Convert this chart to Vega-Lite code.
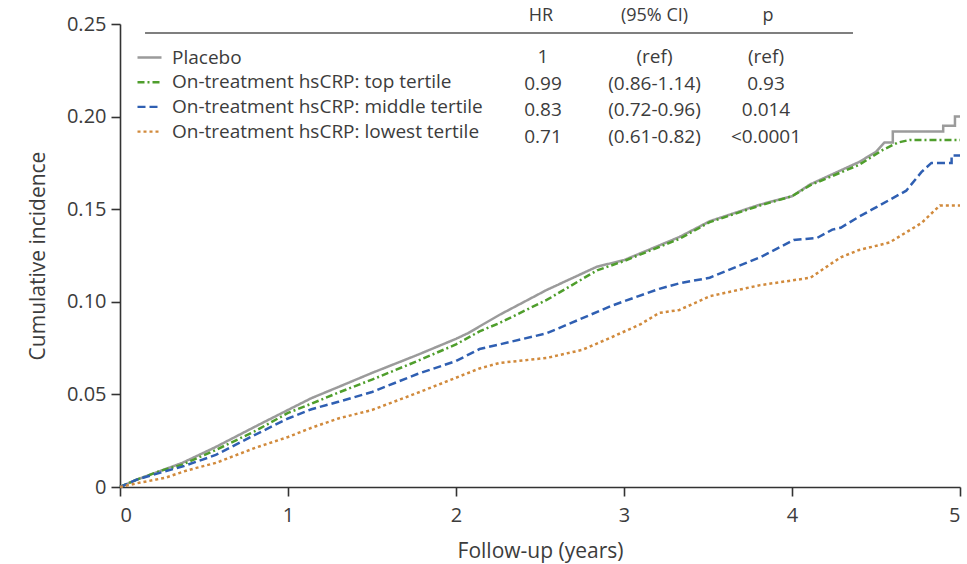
{
  "$schema": "https://vega.github.io/schema/vega-lite/v6.json",
  "width": 840,
  "height": 463,
  "autosize": {"type": "none"},
  "padding": {"left": 120, "top": 24, "right": 7, "bottom": 77},
  "background": "white",
  "config": {
    "font": "Open Sans",
    "view": {"stroke": null},
    "axis": {"grid": false, "domainColor": "#333333", "domainWidth": 1.6, "tickColor": "#333333", "tickWidth": 1.6, "tickSize": 9, "labelFont": "Open Sans", "labelFontSize": 20, "labelColor": "#3c3c3c", "titleFont": "Open Sans", "titleFontSize": 21, "titleFontWeight": "normal", "titleColor": "#3c3c3c"},
    "legend": {"orient": "none", "legendX": 16, "legendY": 20, "padding": 0, "symbolType": "stroke", "symbolSize": 576, "symbolStrokeWidth": 2.4, "labelFont": "Open Sans", "labelFontSize": 19, "labelColor": "#3c3c3c", "labelOffset": 9, "rowPadding": 0.7, "labelLimit": 500}
  },
  "datasets": {
    "curves": [
      {"series": "Placebo", "i": 1, "t": 0, "v": 0},
      {"series": "Placebo", "i": 2, "t": 0.1, "v": 0.004},
      {"series": "Placebo", "i": 3, "t": 0.25, "v": 0.009},
      {"series": "Placebo", "i": 4, "t": 0.37, "v": 0.013},
      {"series": "Placebo", "i": 5, "t": 0.57, "v": 0.0216},
      {"series": "Placebo", "i": 6, "t": 0.8, "v": 0.0324},
      {"series": "Placebo", "i": 7, "t": 1.0, "v": 0.0416},
      {"series": "Placebo", "i": 8, "t": 1.14, "v": 0.048},
      {"series": "Placebo", "i": 9, "t": 1.3, "v": 0.054},
      {"series": "Placebo", "i": 10, "t": 1.5, "v": 0.0616},
      {"series": "Placebo", "i": 11, "t": 1.77, "v": 0.0713},
      {"series": "Placebo", "i": 12, "t": 2.0, "v": 0.08},
      {"series": "Placebo", "i": 13, "t": 2.07, "v": 0.083},
      {"series": "Placebo", "i": 14, "t": 2.26, "v": 0.093},
      {"series": "Placebo", "i": 15, "t": 2.54, "v": 0.1064},
      {"series": "Placebo", "i": 16, "t": 2.84, "v": 0.119},
      {"series": "Placebo", "i": 17, "t": 3.0, "v": 0.1225},
      {"series": "Placebo", "i": 18, "t": 3.33, "v": 0.135},
      {"series": "Placebo", "i": 19, "t": 3.51, "v": 0.1435},
      {"series": "Placebo", "i": 20, "t": 3.81, "v": 0.1525},
      {"series": "Placebo", "i": 21, "t": 4.0, "v": 0.157},
      {"series": "Placebo", "i": 22, "t": 4.11, "v": 0.1635},
      {"series": "Placebo", "i": 23, "t": 4.4, "v": 0.1755},
      {"series": "Placebo", "i": 24, "t": 4.5, "v": 0.181},
      {"series": "Placebo", "i": 25, "t": 4.55, "v": 0.186},
      {"series": "Placebo", "i": 26, "t": 4.6, "v": 0.186},
      {"series": "Placebo", "i": 27, "t": 4.6, "v": 0.192},
      {"series": "Placebo", "i": 28, "t": 4.9, "v": 0.192},
      {"series": "Placebo", "i": 29, "t": 4.9, "v": 0.195},
      {"series": "Placebo", "i": 30, "t": 4.97, "v": 0.195},
      {"series": "Placebo", "i": 31, "t": 4.97, "v": 0.2},
      {"series": "Placebo", "i": 32, "t": 5.0, "v": 0.2},

      {"series": "On-treatment hsCRP: top tertile", "i": 1, "t": 0, "v": 0},
      {"series": "On-treatment hsCRP: top tertile", "i": 2, "t": 0.1, "v": 0.004},
      {"series": "On-treatment hsCRP: top tertile", "i": 3, "t": 0.25, "v": 0.009},
      {"series": "On-treatment hsCRP: top tertile", "i": 4, "t": 0.37, "v": 0.012},
      {"series": "On-treatment hsCRP: top tertile", "i": 5, "t": 0.57, "v": 0.02},
      {"series": "On-treatment hsCRP: top tertile", "i": 6, "t": 0.8, "v": 0.03},
      {"series": "On-treatment hsCRP: top tertile", "i": 7, "t": 1.0, "v": 0.04},
      {"series": "On-treatment hsCRP: top tertile", "i": 8, "t": 1.14, "v": 0.045},
      {"series": "On-treatment hsCRP: top tertile", "i": 9, "t": 1.3, "v": 0.051},
      {"series": "On-treatment hsCRP: top tertile", "i": 10, "t": 1.5, "v": 0.058},
      {"series": "On-treatment hsCRP: top tertile", "i": 11, "t": 1.77, "v": 0.068},
      {"series": "On-treatment hsCRP: top tertile", "i": 12, "t": 2.0, "v": 0.077},
      {"series": "On-treatment hsCRP: top tertile", "i": 13, "t": 2.14, "v": 0.084},
      {"series": "On-treatment hsCRP: top tertile", "i": 14, "t": 2.26, "v": 0.0886},
      {"series": "On-treatment hsCRP: top tertile", "i": 15, "t": 2.54, "v": 0.101},
      {"series": "On-treatment hsCRP: top tertile", "i": 16, "t": 2.84, "v": 0.117},
      {"series": "On-treatment hsCRP: top tertile", "i": 17, "t": 3.0, "v": 0.122},
      {"series": "On-treatment hsCRP: top tertile", "i": 18, "t": 3.33, "v": 0.134},
      {"series": "On-treatment hsCRP: top tertile", "i": 19, "t": 3.51, "v": 0.143},
      {"series": "On-treatment hsCRP: top tertile", "i": 20, "t": 3.81, "v": 0.152},
      {"series": "On-treatment hsCRP: top tertile", "i": 21, "t": 4.0, "v": 0.157},
      {"series": "On-treatment hsCRP: top tertile", "i": 22, "t": 4.11, "v": 0.163},
      {"series": "On-treatment hsCRP: top tertile", "i": 23, "t": 4.4, "v": 0.174},
      {"series": "On-treatment hsCRP: top tertile", "i": 24, "t": 4.54, "v": 0.182},
      {"series": "On-treatment hsCRP: top tertile", "i": 25, "t": 4.63, "v": 0.186},
      {"series": "On-treatment hsCRP: top tertile", "i": 26, "t": 4.7, "v": 0.1874},
      {"series": "On-treatment hsCRP: top tertile", "i": 27, "t": 5.0, "v": 0.1874},

      {"series": "On-treatment hsCRP: middle tertile", "i": 1, "t": 0, "v": 0},
      {"series": "On-treatment hsCRP: middle tertile", "i": 2, "t": 0.1, "v": 0.004},
      {"series": "On-treatment hsCRP: middle tertile", "i": 3, "t": 0.25, "v": 0.008},
      {"series": "On-treatment hsCRP: middle tertile", "i": 4, "t": 0.37, "v": 0.011},
      {"series": "On-treatment hsCRP: middle tertile", "i": 5, "t": 0.57, "v": 0.0173},
      {"series": "On-treatment hsCRP: middle tertile", "i": 6, "t": 0.8, "v": 0.028},
      {"series": "On-treatment hsCRP: middle tertile", "i": 7, "t": 1.0, "v": 0.037},
      {"series": "On-treatment hsCRP: middle tertile", "i": 8, "t": 1.14, "v": 0.042},
      {"series": "On-treatment hsCRP: middle tertile", "i": 9, "t": 1.3, "v": 0.046},
      {"series": "On-treatment hsCRP: middle tertile", "i": 10, "t": 1.5, "v": 0.0513},
      {"series": "On-treatment hsCRP: middle tertile", "i": 11, "t": 1.77, "v": 0.061},
      {"series": "On-treatment hsCRP: middle tertile", "i": 12, "t": 2.0, "v": 0.068},
      {"series": "On-treatment hsCRP: middle tertile", "i": 13, "t": 2.14, "v": 0.0745},
      {"series": "On-treatment hsCRP: middle tertile", "i": 14, "t": 2.26, "v": 0.077},
      {"series": "On-treatment hsCRP: middle tertile", "i": 15, "t": 2.54, "v": 0.083},
      {"series": "On-treatment hsCRP: middle tertile", "i": 16, "t": 2.93, "v": 0.098},
      {"series": "On-treatment hsCRP: middle tertile", "i": 17, "t": 3.21, "v": 0.107},
      {"series": "On-treatment hsCRP: middle tertile", "i": 18, "t": 3.33, "v": 0.11},
      {"series": "On-treatment hsCRP: middle tertile", "i": 19, "t": 3.51, "v": 0.113},
      {"series": "On-treatment hsCRP: middle tertile", "i": 20, "t": 3.81, "v": 0.124},
      {"series": "On-treatment hsCRP: middle tertile", "i": 21, "t": 4.01, "v": 0.1334},
      {"series": "On-treatment hsCRP: middle tertile", "i": 22, "t": 4.15, "v": 0.1345},
      {"series": "On-treatment hsCRP: middle tertile", "i": 23, "t": 4.24, "v": 0.139},
      {"series": "On-treatment hsCRP: middle tertile", "i": 24, "t": 4.29, "v": 0.14},
      {"series": "On-treatment hsCRP: middle tertile", "i": 25, "t": 4.4, "v": 0.146},
      {"series": "On-treatment hsCRP: middle tertile", "i": 26, "t": 4.48, "v": 0.15},
      {"series": "On-treatment hsCRP: middle tertile", "i": 27, "t": 4.68, "v": 0.16},
      {"series": "On-treatment hsCRP: middle tertile", "i": 28, "t": 4.77, "v": 0.17},
      {"series": "On-treatment hsCRP: middle tertile", "i": 29, "t": 4.83, "v": 0.175},
      {"series": "On-treatment hsCRP: middle tertile", "i": 30, "t": 4.95, "v": 0.175},
      {"series": "On-treatment hsCRP: middle tertile", "i": 31, "t": 4.95, "v": 0.179},
      {"series": "On-treatment hsCRP: middle tertile", "i": 32, "t": 5.0, "v": 0.179},

      {"series": "On-treatment hsCRP: lowest tertile", "i": 1, "t": 0, "v": 0},
      {"series": "On-treatment hsCRP: lowest tertile", "i": 2, "t": 0.1, "v": 0.002},
      {"series": "On-treatment hsCRP: lowest tertile", "i": 3, "t": 0.27, "v": 0.005},
      {"series": "On-treatment hsCRP: lowest tertile", "i": 4, "t": 0.4, "v": 0.009},
      {"series": "On-treatment hsCRP: lowest tertile", "i": 5, "t": 0.57, "v": 0.013},
      {"series": "On-treatment hsCRP: lowest tertile", "i": 6, "t": 0.8, "v": 0.021},
      {"series": "On-treatment hsCRP: lowest tertile", "i": 7, "t": 1.0, "v": 0.027},
      {"series": "On-treatment hsCRP: lowest tertile", "i": 8, "t": 1.14, "v": 0.032},
      {"series": "On-treatment hsCRP: lowest tertile", "i": 9, "t": 1.3, "v": 0.037},
      {"series": "On-treatment hsCRP: lowest tertile", "i": 10, "t": 1.5, "v": 0.0416},
      {"series": "On-treatment hsCRP: lowest tertile", "i": 11, "t": 1.77, "v": 0.0508},
      {"series": "On-treatment hsCRP: lowest tertile", "i": 12, "t": 2.0, "v": 0.059},
      {"series": "On-treatment hsCRP: lowest tertile", "i": 13, "t": 2.14, "v": 0.064},
      {"series": "On-treatment hsCRP: lowest tertile", "i": 14, "t": 2.26, "v": 0.067},
      {"series": "On-treatment hsCRP: lowest tertile", "i": 15, "t": 2.54, "v": 0.0697},
      {"series": "On-treatment hsCRP: lowest tertile", "i": 16, "t": 2.75, "v": 0.074},
      {"series": "On-treatment hsCRP: lowest tertile", "i": 17, "t": 2.93, "v": 0.081},
      {"series": "On-treatment hsCRP: lowest tertile", "i": 18, "t": 3.1, "v": 0.088},
      {"series": "On-treatment hsCRP: lowest tertile", "i": 19, "t": 3.21, "v": 0.094},
      {"series": "On-treatment hsCRP: lowest tertile", "i": 20, "t": 3.33, "v": 0.0956},
      {"series": "On-treatment hsCRP: lowest tertile", "i": 21, "t": 3.51, "v": 0.103},
      {"series": "On-treatment hsCRP: lowest tertile", "i": 22, "t": 3.81, "v": 0.109},
      {"series": "On-treatment hsCRP: lowest tertile", "i": 23, "t": 4.11, "v": 0.113},
      {"series": "On-treatment hsCRP: lowest tertile", "i": 24, "t": 4.24, "v": 0.121},
      {"series": "On-treatment hsCRP: lowest tertile", "i": 25, "t": 4.29, "v": 0.124},
      {"series": "On-treatment hsCRP: lowest tertile", "i": 26, "t": 4.4, "v": 0.128},
      {"series": "On-treatment hsCRP: lowest tertile", "i": 27, "t": 4.58, "v": 0.132},
      {"series": "On-treatment hsCRP: lowest tertile", "i": 28, "t": 4.77, "v": 0.1425},
      {"series": "On-treatment hsCRP: lowest tertile", "i": 29, "t": 4.88, "v": 0.152},
      {"series": "On-treatment hsCRP: lowest tertile", "i": 30, "t": 5.0, "v": 0.152}
    ],
    "header": [
      {"col": "HR", "label": "HR"},
      {"col": "CI", "label": "(95% CI)"},
      {"col": "p", "label": "p"}
    ],
    "table": [
      {"series": "Placebo", "col": "HR", "text": "1"},
      {"series": "Placebo", "col": "CI", "text": "(ref)"},
      {"series": "Placebo", "col": "p", "text": "(ref)"},
      {"series": "On-treatment hsCRP: top tertile", "col": "HR", "text": "0.99"},
      {"series": "On-treatment hsCRP: top tertile", "col": "CI", "text": "(0.86-1.14)"},
      {"series": "On-treatment hsCRP: top tertile", "col": "p", "text": "0.93"},
      {"series": "On-treatment hsCRP: middle tertile", "col": "HR", "text": "0.83"},
      {"series": "On-treatment hsCRP: middle tertile", "col": "CI", "text": "(0.72-0.96)"},
      {"series": "On-treatment hsCRP: middle tertile", "col": "p", "text": "0.014"},
      {"series": "On-treatment hsCRP: lowest tertile", "col": "HR", "text": "0.71"},
      {"series": "On-treatment hsCRP: lowest tertile", "col": "CI", "text": "(0.61-0.82)"},
      {"series": "On-treatment hsCRP: lowest tertile", "col": "p", "text": "<0.0001"}
    ]
  },
  "layer": [
    {
      "data": {"name": "curves"},
      "mark": {"type": "line", "strokeWidth": 2.5, "clip": false},
      "encoding": {
        "x": {"field": "t", "type": "quantitative", "scale": {"domain": [0, 5], "nice": false},
              "axis": {"title": "Follow-up (years)", "values": [0, 1, 2, 3, 4, 5], "format": "d", "labelPadding": 9, "titlePadding": 15}},
        "y": {"field": "v", "type": "quantitative", "scale": {"domain": [0, 0.25], "nice": false},
              "axis": {"title": "Cumulative incidence", "values": [0, 0.05, 0.1, 0.15, 0.2, 0.25], "labelExpr": "datum.value == 0 ? '0' : format(datum.value, '.2f')", "labelPadding": 5, "titlePadding": 18}},
        "color": {"field": "series", "type": "nominal", "title": null,
                  "scale": {"domain": ["Placebo", "On-treatment hsCRP: top tertile", "On-treatment hsCRP: middle tertile", "On-treatment hsCRP: lowest tertile"],
                            "range": ["#9b9b9b", "#4f9e2c", "#2f5fb2", "#d18a3c"]}},
        "strokeDash": {"field": "series", "type": "nominal", "title": null,
                  "scale": {"domain": ["Placebo", "On-treatment hsCRP: top tertile", "On-treatment hsCRP: middle tertile", "On-treatment hsCRP: lowest tertile"],
                            "range": [[1, 0], [7, 3, 2, 3], [8, 4], [3, 3]]}},
        "order": {"field": "i", "type": "quantitative"}
      }
    },
    {
      "data": {"values": [{}]},
      "mark": {"type": "rule", "color": "#555555", "strokeWidth": 1.5},
      "encoding": {
        "x": {"datum": 0.149, "type": "quantitative", "scale": {"domain": [0, 5], "nice": false}, "axis": null},
        "x2": {"datum": 4.363},
        "y": {"datum": 0.2451, "type": "quantitative", "scale": {"domain": [0, 0.25], "nice": false}, "axis": null}
      }
    },
    {
      "data": {"name": "header"},
      "mark": {"type": "text", "fontSize": 18, "color": "#3c3c3c", "align": "center", "baseline": "middle"},
      "encoding": {
        "x": {"field": "col", "type": "nominal", "scale": {"type": "point", "domain": ["HR", "CI", "p"], "range": [421, 648], "padding": 0}, "axis": null},
        "y": {"datum": 0.2545, "type": "quantitative", "scale": {"domain": [0, 0.25], "nice": false}, "axis": null},
        "text": {"field": "label"}
      }
    },
    {
      "data": {"name": "table"},
      "mark": {"type": "text", "fontSize": 19, "color": "#3c3c3c", "align": "center", "baseline": "middle"},
      "encoding": {
        "x": {"field": "col", "type": "nominal", "scale": {"type": "point", "domain": ["HR", "CI", "p"], "range": [423, 646], "padding": 0}, "axis": null},
        "y": {"field": "series", "type": "nominal", "scale": {"type": "point", "domain": ["Placebo", "On-treatment hsCRP: top tertile", "On-treatment hsCRP: middle tertile", "On-treatment hsCRP: lowest tertile"], "range": [33, 113], "padding": 0}, "axis": null},
        "text": {"field": "text"}
      }
    }
  ],
  "resolve": {"scale": {"x": "independent", "y": "independent"}}
}
